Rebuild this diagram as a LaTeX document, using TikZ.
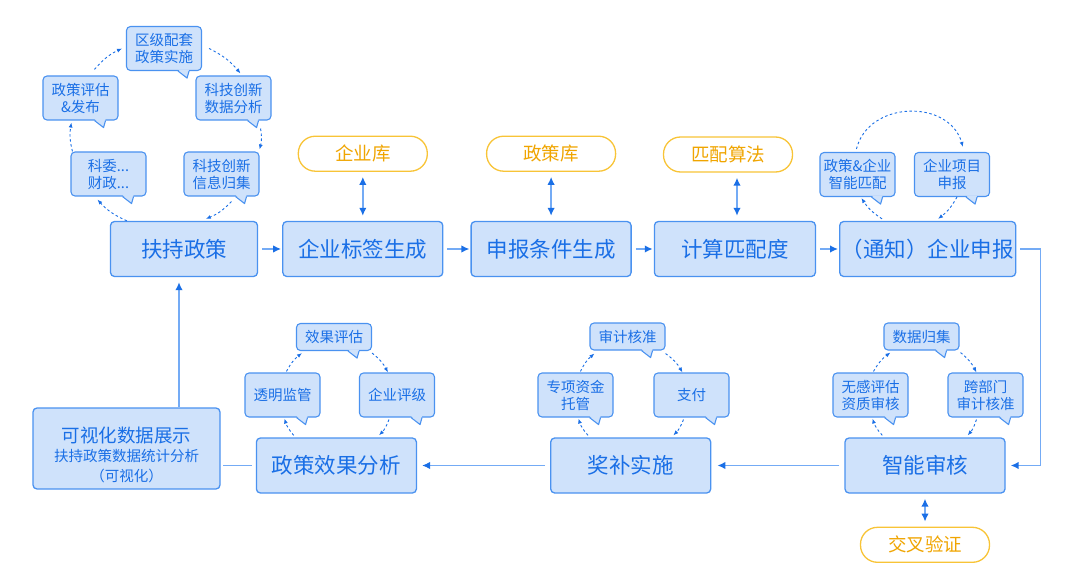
\documentclass[tikz,border=0pt]{standalone}
\usepackage{fontspec}
\setmainfont{Noto Sans CJK SC}
\usetikzlibrary{arrows.meta,positioning}
\definecolor{boxfill}{HTML}{CFE2FB}
\definecolor{boxline}{HTML}{4A92F0}
\definecolor{inkblue}{HTML}{1A6FE6}
\definecolor{wireblue}{HTML}{74ABF5}
\definecolor{amberline}{HTML}{F8C437}
\definecolor{amberink}{HTML}{F0A500}
\tikzstyle{stage} = [draw=boxline,fill=boxfill,line width=1.3pt,rounded corners=4pt,text=inkblue,minimum height=55pt,inner sep=2pt,font=\fontsize{21.5}{24}\selectfont]
\tikzstyle{note}  = [draw=boxline,fill=boxfill,line width=1.1pt,rounded corners=4pt,text=inkblue,minimum width=75pt,minimum height=44pt,inner sep=1pt,align=center,font=\fontsize{14.5}{17}\selectfont]
\tikzstyle{store} = [draw=amberline,fill=white,line width=1.3pt,rounded corners=17pt,text=amberink,minimum width=129pt,minimum height=35pt,font=\fontsize{18.5}{20}\selectfont]
\tikzstyle{wire}  = [wireblue,line width=1.6pt]
\tikzstyle{flow}  = [wire,-{Latex[length=8pt,width=7.5pt,color=inkblue]}]
\tikzstyle{dual}  = [wire,{Latex[length=8pt,width=7.5pt,color=inkblue]}-{Latex[length=8pt,width=7.5pt,color=inkblue]},shorten <=5pt,shorten >=5pt]
\tikzstyle{cyc}   = [inkblue,line width=0.9pt,dash pattern=on 2.5pt off 2.5pt,-{Latex[length=5pt,width=4pt]},bend left=12]
\newcommand{\speechtail}[1]{%
  \fill[boxfill] ([xshift=-24pt,yshift=1.5pt]#1.south east) -- ([xshift=-15pt,yshift=-7pt]#1.south east) -- ([xshift=-13pt,yshift=1.5pt]#1.south east) -- cycle;
  \draw[boxline,line width=1.1pt,line join=round] ([xshift=-24pt]#1.south east) -- ([xshift=-15pt,yshift=-7pt]#1.south east) -- ([xshift=-13pt]#1.south east);}

\begin{document}
\begin{tikzpicture}[x=1pt,y=-1pt]
\useasboundingbox (0,0) rectangle (1082,580);

% main row
\node[stage,minimum width=147pt] (fc) at (184,249) {扶持政策};
\node[stage,minimum width=160pt] (bq) [right=24pt of fc] {企业标签生成};
\node[stage,minimum width=160pt] (sb) [right=27pt of bq] {申报条件生成};
\node[stage,minimum width=161pt] (js) [right=22pt of sb] {计算匹配度};
\node[stage,minimum width=175pt] (qysb) [right=23pt of js] {（通知）企业申报};

\node[stage,minimum width=160pt] (znsh) at (925,465.5) {智能审核};
\node[stage,minimum width=160pt] (jbss) [left=133pt of znsh] {奖补实施};
\node[stage,minimum width=160pt] (xgfx) [left=133pt of jbss] {政策效果分析};
\node[stage,minimum width=187pt,minimum height=81pt,align=center] (kshzs) at (126.5,448.5)
  {{\fontsize{18.5}{22}\selectfont\rule{0pt}{28pt}可视化数据展示}\\[-5pt]{\fontsize{14.5}{18}\selectfont 扶持政策数据统计分析}\\[-4pt]{\fontsize{14.5}{18}\selectfont （可视化）}};

% stores
\node[store] (qyk) [above=49pt of bq] {企业库};
\node[store] (zck) [above=49pt of sb] {政策库};
\node[store] (ppsf) at (728,154.5) {匹配算法};
\node[store] (jcyz) [below=33pt of znsh] {交叉验证};

% bubbles
\node[note] (qjpt) at (164,48.5) {区级配套\\政策实施};
\node[note] (zcpg) at (80.5,98) {政策评估\\\&发布};
\node[note] (sjfx) at (233.5,98) {科技创新\\数据分析};
\node[note] (kw)   at (108.5,174) {科委...\\财政...};
\node[note] (xxgj) at (221.5,174) {科技创新\\信息归集};

\node[note] (znpp) at (857.5,174.5) {政策\&企业\\智能匹配};
\node[note] (xmsb) at (952,174.5) {企业项目\\申报};

\node[note,minimum height=27pt] (sjgj) at (921.5,336.5) {数据归集};
\node[note] (wgpg) at (870.5,395) {无感评估\\资质审核};
\node[note] (kbm)  at (985.5,395) {跨部门\\审计核准};

\node[note,minimum height=27pt] (sjhz) at (627.5,336.5) {审计核准};
\node[note] (zxzj) at (575.5,395) {专项资金\\托管};
\node[note] (zf)   at (691.5,395) {支付};

\node[note,minimum height=27pt] (xgpg) at (334,337) {效果评估};
\node[note] (tmjg) at (282.5,395) {透明监管};
\node[note] (qypj) at (397,395) {企业评级};

\speechtail{qjpt} \speechtail{zcpg} \speechtail{sjfx} \speechtail{kw} \speechtail{xxgj}
\speechtail{znpp} \speechtail{xmsb}
\speechtail{sjgj} \speechtail{wgpg} \speechtail{kbm}
\speechtail{sjhz} \speechtail{zxzj} \speechtail{zf}
\speechtail{xgpg} \speechtail{tmjg} \speechtail{qypj}

% main flow
\draw[flow,shorten <=4pt,shorten >=1pt] (fc) -- (bq);
\draw[flow,shorten <=4pt,shorten >=1pt] (bq) -- (sb);
\draw[flow,shorten <=4pt,shorten >=1pt] (sb) -- (js);
\draw[flow,shorten <=4pt,shorten >=1pt] (js) -- (qysb);
\draw[flow,shorten <=4pt,shorten >=5pt] (qysb.east) -- ++(24,0) |- (znsh.east);
\draw[flow,shorten <=5pt,shorten >=6pt] (znsh) -- (jbss);
\draw[flow,shorten <=5pt,shorten >=5pt] (jbss) -- (xgfx);
\draw[wire,shorten <=4pt,shorten >=2pt] (xgfx.west) -- (xgfx.west -| kshzs.east);
\draw[flow,shorten >=5pt] ([xshift=52.5pt]kshzs.north) -- ([xshift=52.5pt]kshzs.north |- fc.south);

% stores
\draw[dual] (qyk.south) -- (qyk.south |- bq.north);
\draw[dual] (zck.south) -- (zck.south |- sb.north);
\draw[dual] ([xshift=9pt]ppsf.south) -- ([xshift=9pt]ppsf.south |- js.north);
\draw[dual] (znsh.south) -- (jcyz.north);

% cycle round fc
\draw[cyc] ([xshift=17pt]fc.north west) to ([xshift=27pt,yshift=-3pt]kw.south west);
\draw[cyc] ([xshift=2pt]kw.north west) to ([xshift=29pt,yshift=-2pt]zcpg.south west);
\draw[cyc] ([xshift=52pt,yshift=6pt]zcpg.north west) to ([xshift=-4pt]qjpt.west);
\draw[cyc] ([xshift=7pt]qjpt.east) to ([xshift=45pt,yshift=2pt]sjfx.north west);
\draw[cyc] ([xshift=-11pt,yshift=-8pt]sjfx.south east) to ([yshift=2pt]xxgj.north east);
\draw[cyc] ([xshift=48pt,yshift=-5pt]xxgj.south west) to ([xshift=96pt,yshift=2pt]fc.north west);

% cycle round qysb
\draw[cyc] ([xshift=37pt,yshift=3pt]znpp.north west) to[out=75,in=105,looseness=1.2] ([xshift=49pt,yshift=5pt]xmsb.north west);
\draw[cyc] ([xshift=43pt]xmsb.south west) to ([xshift=99pt,yshift=2pt]qysb.north west);
\draw[cyc] ([xshift=43pt,yshift=2pt]qysb.north west) to ([xshift=42pt,yshift=-1pt]znpp.south west);

% cycle round znsh
\draw[cyc] ([xshift=38pt,yshift=2pt]znsh.north west) to ([xshift=40pt,yshift=-1pt]wgpg.south west);
\draw[cyc] ([xshift=41pt,yshift=1pt]wgpg.north west) to ([xshift=7pt,yshift=-2pt]sjgj.south west);
\draw[cyc] ([xshift=1pt,yshift=-2pt]sjgj.south east) to ([xshift=29pt]kbm.north west);
\draw[cyc] ([xshift=29pt,yshift=-2pt]kbm.south west) to ([xshift=-38pt,yshift=2pt]znsh.north east);

% cycle round jbss
\draw[cyc] ([xshift=38pt,yshift=2pt]jbss.north west) to ([xshift=41pt,yshift=-1pt]zxzj.south west);
\draw[cyc] ([xshift=43pt,yshift=1pt]zxzj.north west) to ([xshift=5pt,yshift=-3pt]sjhz.south west);
\draw[cyc] ([yshift=-3pt]sjhz.south east) to ([xshift=29pt]zf.north west);
\draw[cyc] ([xshift=30pt,yshift=-2pt]zf.south west) to ([xshift=-38pt,yshift=2pt]jbss.north east);

% cycle round xgfx
\draw[cyc] ([xshift=38pt,yshift=2pt]xgfx.north west) to ([xshift=40pt,yshift=-1pt]tmjg.south west);
\draw[cyc] ([xshift=42pt,yshift=1pt]tmjg.north west) to ([xshift=6pt,yshift=-2pt]xgpg.south west);
\draw[cyc] ([yshift=-2pt]xgpg.south east) to ([xshift=29pt]qypj.north west);
\draw[cyc] ([xshift=30pt,yshift=-2pt]qypj.south west) to ([xshift=-38pt,yshift=2pt]xgfx.north east);
\end{tikzpicture}
\end{document}
